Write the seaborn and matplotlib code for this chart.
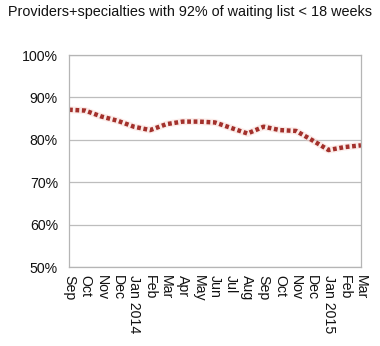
import matplotlib
matplotlib.use("Agg")
import matplotlib.pyplot as plt
import seaborn as sns
import pandas as pd

months = ["Sep", "Oct", "Nov", "Dec", "Jan 2014", "Feb", "Mar", "Apr", "May",
          "Jun", "Jul", "Aug", "Sep", "Oct", "Nov", "Dec", "Jan 2015", "Feb", "Mar"]
share_pct = [87.1, 86.9, 85.5, 84.5, 83.1, 82.3, 83.7, 84.3, 84.3,
             84.1, 82.8, 81.5, 83.1, 82.3, 82.1, 79.9, 77.6, 78.3, 78.7]
y_ticks = [50, 60, 70, 80, 90, 100]

sns.set_style("white")
plt.rcParams["font.family"] = ["Liberation Sans", "DejaVu Sans"]

df = pd.DataFrame({"pos": range(len(months)), "share": share_pct})

fig = plt.figure(figsize=(3.8, 3.46), dpi=100)
ax = fig.add_axes([0.1816, 0.228, 0.7684, 0.613])

# faint glow under the dotted series
sns.lineplot(data=df, x="pos", y="share", ax=ax, color="#f4c9c2",
             linewidth=5.0, alpha=0.35, solid_capstyle="round")
sns.lineplot(data=df, x="pos", y="share", ax=ax, color="#a3302b",
             linewidth=3.2, linestyle=(0, (0.85, 0.6)), dash_capstyle="butt")

ax.set_xlim(0, len(months) - 1)
ax.set_ylim(50, 100)
ax.set_yticks(y_ticks)
ax.set_yticklabels([f"{v}%" for v in y_ticks], fontsize=10.2)
ax.set_xticks(range(len(months)))
ax.set_xticklabels(months, rotation=-90, fontsize=10.2, va="top", ha="center")
ax.set_xlabel("")
ax.set_ylabel("")

ax.grid(axis="y", color="#bdbdbd", linewidth=0.9)
ax.set_axisbelow(True)
for s in ax.spines.values():
    s.set_color("#b5b5b5")
    s.set_linewidth(0.9)
ax.tick_params(axis="both", length=4, width=0.8, colors="#111111")
ax.tick_params(axis="y", pad=4)
ax.tick_params(axis="x", pad=2)
for t in ax.get_xticklines() + ax.get_yticklines():
    t.set_color("#b5b5b5")

fig.suptitle("Providers+specialties with 92% of waiting list < 18 weeks",
             x=0.5, y=0.985, fontsize=10.4, va="top", color="#111111")

fig.savefig("out.png", dpi=100)
